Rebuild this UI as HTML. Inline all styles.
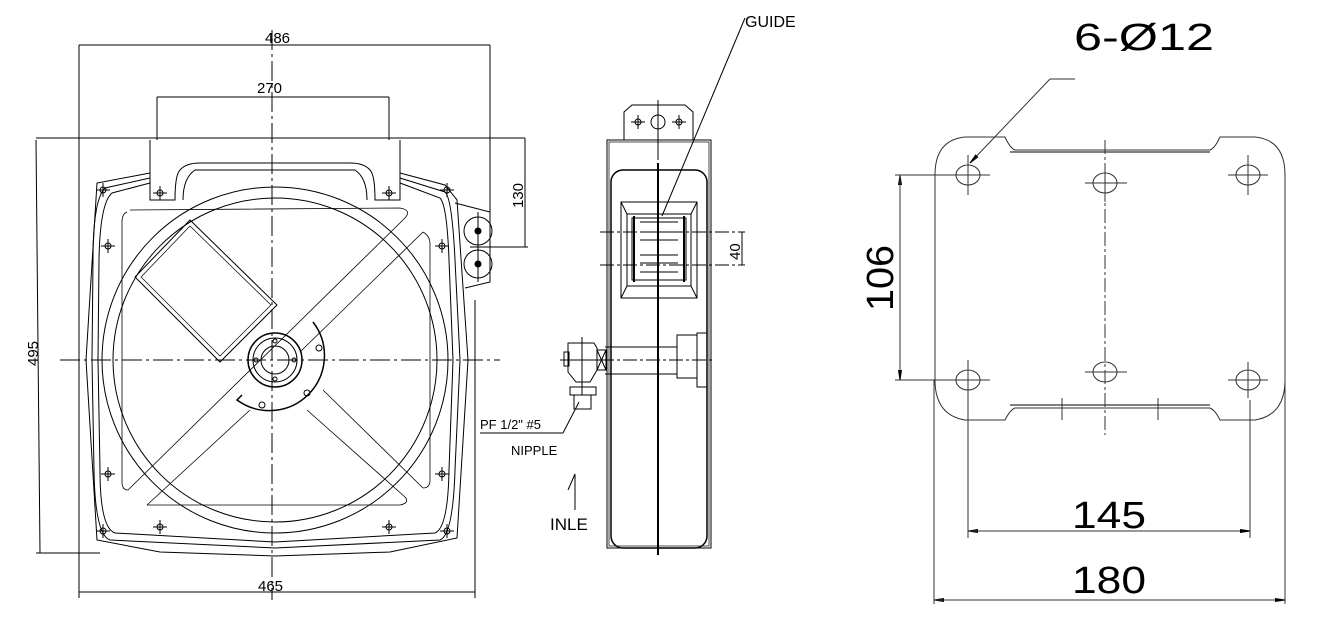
<!DOCTYPE html>
<html><head><meta charset="utf-8"><style>
html,body{margin:0;padding:0;background:#fff;}
svg{display:block;}
text{font-family:"Liberation Sans",sans-serif;fill:#000;}
</style></head><body>
<svg width="1328" height="628" viewBox="0 0 1328 628" xmlns="http://www.w3.org/2000/svg" fill="none" stroke="#000" stroke-width="1">
<defs>
<g id="ch"><circle r="3"/><line x1="-7" y1="0" x2="7" y2="0"/><line x1="0" y1="-7" x2="0" y2="7"/></g>
<marker id="ar" markerWidth="10" markerHeight="6" refX="10" refY="3" orient="auto"><path d="M0,1.5 L10,3 L0,4.5z" fill="#000"/></marker>
</defs>

<!-- ===== FRONT VIEW ===== -->
<line x1="79" y1="45" x2="490" y2="45"/>
<line x1="79" y1="45" x2="79" y2="598"/>
<line x1="490" y1="45" x2="490" y2="250"/>
<text x="265" y="43" font-size="15" stroke="none">486</text>
<line x1="157" y1="97" x2="389" y2="97"/>
<line x1="157" y1="97" x2="157" y2="140"/>
<line x1="389" y1="97" x2="389" y2="140"/>
<text x="257" y="93" font-size="15" stroke="none">270</text>
<line x1="36" y1="140" x2="40" y2="553"/>
<line x1="36" y1="138" x2="525" y2="138"/>
<line x1="36" y1="553" x2="100" y2="553"/>
<text transform="translate(38,366) rotate(-90)" font-size="15" stroke="none">495</text>
<line x1="525" y1="138" x2="525" y2="247"/>
<line x1="470" y1="247" x2="528" y2="247"/>
<text transform="translate(523,208) rotate(-90)" font-size="15" stroke="none">130</text>
<line x1="79" y1="592" x2="475" y2="592"/>
<line x1="475" y1="300" x2="475" y2="598"/>
<text x="258" y="591" font-size="15" stroke="none">465</text>

<!-- frame -->
<path d="M150,173 L97,183 L86,360 L97,540 L160,552 L275,556 L390,552 L457,538 L468,360 L457,200 L445,185 L400,173"/>
<path d="M150,178 L105,188 Q93,200 93,260 L92,360 L94,470 Q95,535 110,540 L275,548 L440,540 Q453,535 455,470 L460,360 L455,260 Q452,198 445,192 L400,178"/>
<path d="M150,183 L112,193 Q100,203 99,260 L98,360 L100,470 Q100,528 115,533 L275,542 L435,533 Q448,528 449,470 L453,360 L449,260 Q447,205 440,198 L400,183"/>
<!-- handle -->
<path d="M150,140 L150,200 L175,200 Q175,175 180,170 Q186,163 200,163 L350,163 Q364,163 370,170 Q375,175 375,200 L400,200 L400,140"/>
<path d="M183,200 Q183,178 195,170 L355,170 Q367,178 367,200"/>
<!-- inner X plate -->
<g stroke-width="0.8">
<path d="M130,210 L400,208 Q412,210 405,218"/>
<path d="M127,212 Q122,214 122,222 L122,482 Q122,490 128,490"/>
<path d="M147,505 L400,505 Q410,503 405,497"/>
<path d="M423,232 Q430,236 430,244 L430,480 Q430,488 423,488"/>
<line x1="405" y1="218" x2="128" y2="490"/>
<line x1="423" y1="232" x2="300" y2="352"/>
<line x1="250" y1="410" x2="147" y2="505"/>
<line x1="323" y1="390" x2="423" y2="488"/>
<line x1="307" y1="410" x2="405" y2="497"/>
</g>
<!-- circles -->
<circle cx="275" cy="360" r="173"/>
<circle cx="275" cy="360" r="162"/>
<!-- window -->
<path d="M190,220 L277,305 L220,362 L135,277 Z"/>
<path d="M190,226 L271,305 L220,356 L141,277 Z" stroke-width="0.7"/>
<!-- hub -->
<circle cx="275" cy="360" r="27" stroke-width="1.5"/>
<circle cx="275" cy="360" r="22"/>
<circle cx="275" cy="360" r="14"/>
<path d="M313,322 A55,55 0 0 1 237,400 L242,395" stroke-width="1.5"/>
<circle cx="319" cy="348" r="3"/><circle cx="307" cy="393" r="3"/><circle cx="262" cy="405" r="3"/>
<circle cx="275" cy="341" r="2"/><circle cx="275" cy="379" r="2"/><circle cx="294" cy="360" r="2"/><circle cx="256" cy="360" r="2"/>
<!-- centre lines -->
<line x1="272" y1="30" x2="272" y2="600" stroke-dasharray="20,4,3,4"/>
<line x1="60" y1="360" x2="500" y2="360" stroke-dasharray="20,4,3,4"/>
<!-- mounting holes -->
<use href="#ch" x="103" y="190"/><use href="#ch" x="447" y="190"/>
<use href="#ch" x="108" y="246"/><use href="#ch" x="442" y="246"/>
<use href="#ch" x="108" y="474"/><use href="#ch" x="442" y="474"/>
<use href="#ch" x="103" y="531"/><use href="#ch" x="447" y="531"/>
<use href="#ch" x="160" y="527"/><use href="#ch" x="389" y="527"/>
<use href="#ch" x="160" y="193"/><use href="#ch" x="389" y="193"/>
<!-- rollers -->
<path d="M455,203 L490,212 L490,282 L465,288"/>
<circle cx="478" cy="231" r="14"/><circle cx="478" cy="264" r="14"/>
<circle cx="478" cy="231" r="3" fill="#000"/><circle cx="478" cy="264" r="3" fill="#000"/>
<line x1="478" y1="212" x2="478" y2="282"/>

<!-- ===== SIDE VIEW ===== -->
<path d="M624,140 L624,112 L632,105 L685,105 L693,112 L693,140"/>
<circle cx="658" cy="122" r="7"/>
<use href="#ch" x="638" y="122"/><use href="#ch" x="679" y="122"/>
<rect x="607" y="140" width="104" height="408"/>
<rect x="609" y="142" width="100" height="404" stroke-width="0.7"/>
<rect x="611" y="170" width="96" height="378" rx="12" stroke-width="1.5"/>
<line x1="658" y1="100" x2="658" y2="160"/>
<line x1="658" y1="163" x2="658" y2="555" stroke-width="2"/>
<rect x="621" y="202" width="76" height="96"/>
<rect x="627" y="214" width="64" height="72"/>
<line x1="621" y1="202" x2="627" y2="214"/><line x1="697" y1="202" x2="691" y2="214"/>
<line x1="621" y1="298" x2="627" y2="286"/><line x1="697" y1="298" x2="691" y2="286"/>
<rect x="632" y="218" width="54" height="62"/>
<line x1="634" y1="216" x2="634" y2="282" stroke-width="2"/><line x1="684" y1="216" x2="684" y2="282" stroke-width="2"/>
<path d="M640,222 L678,222 M640,232 L678,232 M640,240 L678,240 M640,255 L678,255 M640,263 L678,263 M640,272 L678,272"/>
<line x1="600" y1="232" x2="745" y2="232" stroke-dasharray="14,3,3,3"/>
<line x1="600" y1="265" x2="745" y2="265" stroke-dasharray="14,3,3,3"/>
<line x1="742" y1="232" x2="742" y2="265"/>
<text transform="translate(740,260) rotate(-90)" font-size="15" stroke="none">40</text>
<line x1="745" y1="18" x2="662" y2="216"/>
<text x="745" y="27" font-size="16" font-family="Liberation Mono" stroke="none">GUIDE</text>
<line x1="605" y1="347" x2="677" y2="347"/><line x1="605" y1="374" x2="677" y2="374"/>
<line x1="600" y1="360" x2="715" y2="360" stroke-dasharray="14,3,3,3"/>
<rect x="677" y="335" width="20" height="43"/>
<rect x="697" y="333" width="10" height="54"/>
<rect x="597" y="350" width="9" height="20"/>
<path d="M597,350 L606,370 M606,350 L597,370"/>
<path d="M568,343 L594,343 L597,348 L597,370 L590,382 L576,382 L568,372 Z"/>
<rect x="564" y="352" width="5" height="14"/>
<line x1="582" y1="337" x2="582" y2="395"/>
<line x1="560" y1="360" x2="604" y2="360"/>
<rect x="570" y="387" width="26" height="8"/>
<rect x="574" y="395" width="17" height="14"/>
<line x1="480" y1="433" x2="563" y2="433"/>
<line x1="563" y1="433" x2="579" y2="402"/>
<text x="480" y="429" font-size="13" stroke="none">PF 1/2" #5</text>
<text x="511" y="455" font-size="13" stroke="none">NIPPLE</text>
<path d="M575,510 L575,474 L568,490"/>
<text x="550" y="530" font-size="17" font-family="Liberation Mono" stroke="none">INLE</text>

<!-- ===== PLATE ===== -->
<path d="M965,137 L1005,137 Q1010,148 1015,150 L1210,150 Q1215,148 1220,137 L1255,137 Q1285,140 1285,175 L1285,380 Q1285,415 1255,420 L1220,420 Q1215,410 1210,408 L1015,408 Q1010,410 1005,420 L965,420 Q935,415 935,380 L935,175 Q935,140 965,137 Z" stroke="#333"/>
<line x1="1010" y1="152" x2="1210" y2="152"/>
<line x1="1010" y1="405" x2="1210" y2="405"/>
<g stroke="#333">
<ellipse cx="968" cy="175" rx="12" ry="10"/><ellipse cx="1105" cy="183" rx="12" ry="10"/><ellipse cx="1248" cy="175" rx="12" ry="10"/>
<ellipse cx="968" cy="380" rx="12" ry="10"/><ellipse cx="1105" cy="372" rx="12" ry="10"/><ellipse cx="1248" cy="380" rx="12" ry="10"/>
<path d="M948,175 L990,175 M968,155 L968,195 M1085,183 L1127,183 M1105,165 L1105,202 M1228,175 L1268,175 M1248,155 L1248,195"/>
<path d="M948,380 L990,380 M968,360 L968,400 M1085,372 L1127,372 M1228,380 L1268,380 M1248,362 L1248,398"/>
<line x1="1105" y1="140" x2="1105" y2="435" stroke-dasharray="14,3,3,3"/>
<path d="M1062,398 L1062,420 M1158,398 L1158,420"/>
<line x1="895" y1="175" x2="968" y2="175"/><line x1="895" y1="380" x2="968" y2="380"/>
<line x1="900" y1="380" x2="900" y2="175" marker-end="url(#ar)"/><line x1="900" y1="175" x2="900" y2="380" marker-end="url(#ar)"/>
<line x1="968" y1="400" x2="968" y2="538"/><line x1="1250" y1="400" x2="1250" y2="538"/>
<line x1="1250" y1="531" x2="968" y2="531" marker-end="url(#ar)"/><line x1="968" y1="531" x2="1250" y2="531" marker-end="url(#ar)"/>
<line x1="934" y1="380" x2="934" y2="604"/><line x1="1285" y1="380" x2="1285" y2="604"/>
<line x1="1285" y1="600" x2="934" y2="600" marker-end="url(#ar)"/><line x1="934" y1="600" x2="1285" y2="600" marker-end="url(#ar)"/>
<line x1="1075" y1="79" x2="1050" y2="79"/>
<line x1="1050" y1="79" x2="970" y2="163" marker-end="url(#ar)"/>
</g>
<g fill="#777" stroke="none" font-size="38">
<text x="1074" y="50" textLength="140" lengthAdjust="spacingAndGlyphs">6-Ø12</text>
<text transform="translate(893,311) rotate(-90)" textLength="66" lengthAdjust="spacingAndGlyphs">106</text>
<text x="1072" y="528" textLength="74" lengthAdjust="spacingAndGlyphs">145</text>
<text x="1072" y="593" textLength="74" lengthAdjust="spacingAndGlyphs">180</text>
</g>
</svg>
</body></html>
